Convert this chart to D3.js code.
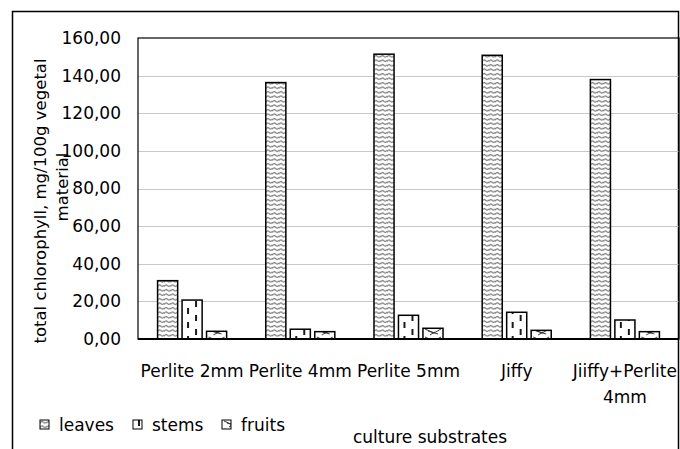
<!DOCTYPE html>
<html>
<head>
<meta charset="utf-8">
<script src="https://cdn.jsdelivr.net/npm/d3@7"></script>
<style>
  body { margin: 0; background: #fff; }
  text { font-family: "DejaVu Sans", sans-serif; fill: #000; }
</style>
</head>
<body>
<div id="chart"></div>
<script>
// data
var categories = ["Perlite 2mm", "Perlite 4mm", "Perlite 5mm", "Jiffy", "Jiiffy+Perlite 4mm"];
var series = ["leaves", "stems", "fruits"];
var leaves = [31.0, 136.3, 151.4, 150.8, 137.9];
var stems = [20.7, 5.2, 12.6, 14.2, 10.1];
var fruits = [4.1, 3.9, 5.7, 4.6, 3.9];
var yTicks = [0, 20, 40, 60, 80, 100, 120, 140, 160];

var values = { leaves: leaves, stems: stems, fruits: fruits };

var W = 680, H = 449;
var plot = { left: 138, top: 38, right: 679, bottom: 339 };

var svg = d3.select("#chart").append("svg")
    .attr("width", W).attr("height", H);

// patterns (approximating the Excel fills)
var defs = svg.append("defs");

var pLeaves = defs.append("pattern").attr("id", "pat-leaves")
    .attr("patternUnits", "userSpaceOnUse").attr("width", 6.5).attr("height", 4.5);
pLeaves.append("rect").attr("width", 6.5).attr("height", 4.5).attr("fill", "#fff");
pLeaves.append("path")
    .attr("d", "M0,3 Q1.6,0.5 3.25,2.2 T6.5,2")
    .attr("fill", "none").attr("stroke", "#666").attr("stroke-width", 1.1);

var pStems = defs.append("pattern").attr("id", "pat-stems")
    .attr("patternUnits", "userSpaceOnUse").attr("width", 8).attr("height", 14);
pStems.append("rect").attr("width", 8).attr("height", 14).attr("fill", "#fff");
pStems.append("line").attr("x1", 6).attr("x2", 6).attr("y1", 0).attr("y2", 6)
    .attr("stroke", "#000").attr("stroke-width", 1.8);
pStems.append("line").attr("x1", 14).attr("x2", 14).attr("y1", 7).attr("y2", 13)
    .attr("stroke", "#000").attr("stroke-width", 1.8);

var pStemsWide = defs.append("pattern").attr("id", "pat-stems2")
    .attr("patternUnits", "userSpaceOnUse").attr("width", 20).attr("height", 14);
pStemsWide.append("rect").attr("width", 20).attr("height", 14).attr("fill", "#fff");
pStemsWide.append("line").attr("x1", 6).attr("x2", 6).attr("y1", 0).attr("y2", 6)
    .attr("stroke", "#000").attr("stroke-width", 1.8);
pStemsWide.append("line").attr("x1", 14).attr("x2", 14).attr("y1", 7).attr("y2", 13)
    .attr("stroke", "#000").attr("stroke-width", 1.8);

var pFruits = defs.append("pattern").attr("id", "pat-fruits")
    .attr("patternUnits", "userSpaceOnUse").attr("width", 20).attr("height", 8);
pFruits.append("rect").attr("width", 20).attr("height", 8).attr("fill", "#fff");
pFruits.append("path")
    .attr("d", "M2,1 L11,5 L18,1 M7,7 L12,4 M5,3 L15,6")
    .attr("fill", "none").attr("stroke", "#333").attr("stroke-width", 1);

var fills = { leaves: "url(#pat-leaves)", stems: "url(#pat-stems2)", fruits: "url(#pat-fruits)" };

// outer chart border
svg.append("rect")
    .attr("x", 12.5).attr("y", 11.5)
    .attr("width", 666).attr("height", 460)
    .attr("fill", "none").attr("stroke", "#000").attr("stroke-width", 1.5);

// scales
var x0 = d3.scaleBand().domain(categories).range([plot.left, plot.right]);
var x1 = d3.scaleBand().domain(series).range([0, x0.bandwidth()])
    .paddingInner(0.18).paddingOuter(0.8);
var y = d3.scaleLinear().domain([0, 160]).range([plot.bottom, plot.top]);

// gridlines
svg.append("g")
    .selectAll("line").data(yTicks.slice(1, -1)).enter().append("line")
    .attr("x1", plot.left).attr("x2", plot.right)
    .attr("y1", function (d) { return Math.round(y(d)) + 0.5; })
    .attr("y2", function (d) { return Math.round(y(d)) + 0.5; })
    .attr("stroke", "#c8c8c8").attr("stroke-width", 1);

// plot area frame
svg.append("rect")
    .attr("x", plot.left).attr("y", plot.top)
    .attr("width", plot.right - plot.left).attr("height", plot.bottom - plot.top)
    .attr("fill", "none").attr("stroke", "#000").attr("stroke-width", 1.2);

// bars: each bar in its own group so the fill pattern starts at the bar's left edge
var groups = svg.append("g").selectAll("g").data(categories).enter().append("g")
    .attr("transform", function (d) { return "translate(" + x0(d) + ",0)"; });

var bars = groups.selectAll("g")
    .data(function (c, i) { return series.map(function (s) { return { s: s, v: values[s][i] }; }); })
    .enter().append("g")
    .attr("transform", function (d) { return "translate(" + x1(d.s) + ",0)"; });

bars.append("rect")
    .attr("x", 0)
    .attr("y", function (d) { return y(d.v); })
    .attr("width", x1.bandwidth())
    .attr("height", function (d) { return y(0) - y(d.v); })
    .attr("fill", function (d) { return fills[d.s]; })
    .attr("stroke", "#000").attr("stroke-width", 1.5);

// x axis line
svg.append("line")
    .attr("x1", plot.left).attr("x2", plot.right)
    .attr("y1", plot.bottom).attr("y2", plot.bottom)
    .attr("stroke", "#000").attr("stroke-width", 2);

// y axis labels
var fmt = function (d) { return d3.format(".2f")(d).replace(".", ","); };
var yAxis = svg.append("g")
    .attr("transform", "translate(" + plot.left + ",0)")
    .call(d3.axisLeft(y).tickValues(yTicks).tickFormat(fmt).tickSize(0).tickPadding(17));
yAxis.select(".domain").remove();
yAxis.selectAll("text").style("font-size", "17px").style("font-family", "DejaVu Sans, sans-serif").attr("fill", "#000");

// category labels (wrapped)
var xAxis = svg.append("g")
    .attr("transform", "translate(0," + plot.bottom + ")")
    .call(d3.axisBottom(x0).tickSize(0).tickPadding(26));
xAxis.select(".domain").remove();
xAxis.selectAll("text")
    .style("font-size", "17px").style("font-family", "DejaVu Sans, sans-serif")
    .attr("fill", "#000")
    .each(function (d) {
        var t = d3.select(this);
        if (d === "Jiiffy+Perlite 4mm") {
            t.text(null);
            t.append("tspan").attr("x", 0).attr("dy", "0.71em").text("Jiiffy+Perlite");
            t.append("tspan").attr("x", 0).attr("dy", "1.55em").text("4mm");
            t.attr("dy", null);
        }
    });

// y axis title
svg.append("text")
    .attr("transform", "translate(46,201) rotate(-90)")
    .attr("text-anchor", "middle")
    .style("font-size", "16.5px")
    .text("total chlorophyll, mg/100g vegetal");
svg.append("text")
    .attr("transform", "translate(68,187) rotate(-90)")
    .attr("text-anchor", "middle")
    .style("font-size", "16.5px")
    .text("material");

// x axis title
svg.append("text")
    .attr("x", 430).attr("y", 443)
    .attr("text-anchor", "middle")
    .style("font-size", "17px")
    .text("culture substrates");

// legend
var legendX = [40, 133, 222];
var legend = svg.append("g").selectAll("g").data(series).enter().append("g")
    .attr("transform", function (d, i) { return "translate(" + legendX[i] + ",420)"; });
legend.append("rect")
    .attr("width", 9).attr("height", 9)
    .attr("fill", function (d) { return fills[d]; })
    .attr("stroke", "#000").attr("stroke-width", 1);
legend.append("text")
    .attr("x", 19).attr("y", 11)
    .style("font-size", "17px")
    .text(function (d) { return d; });
</script>
</body>
</html>
